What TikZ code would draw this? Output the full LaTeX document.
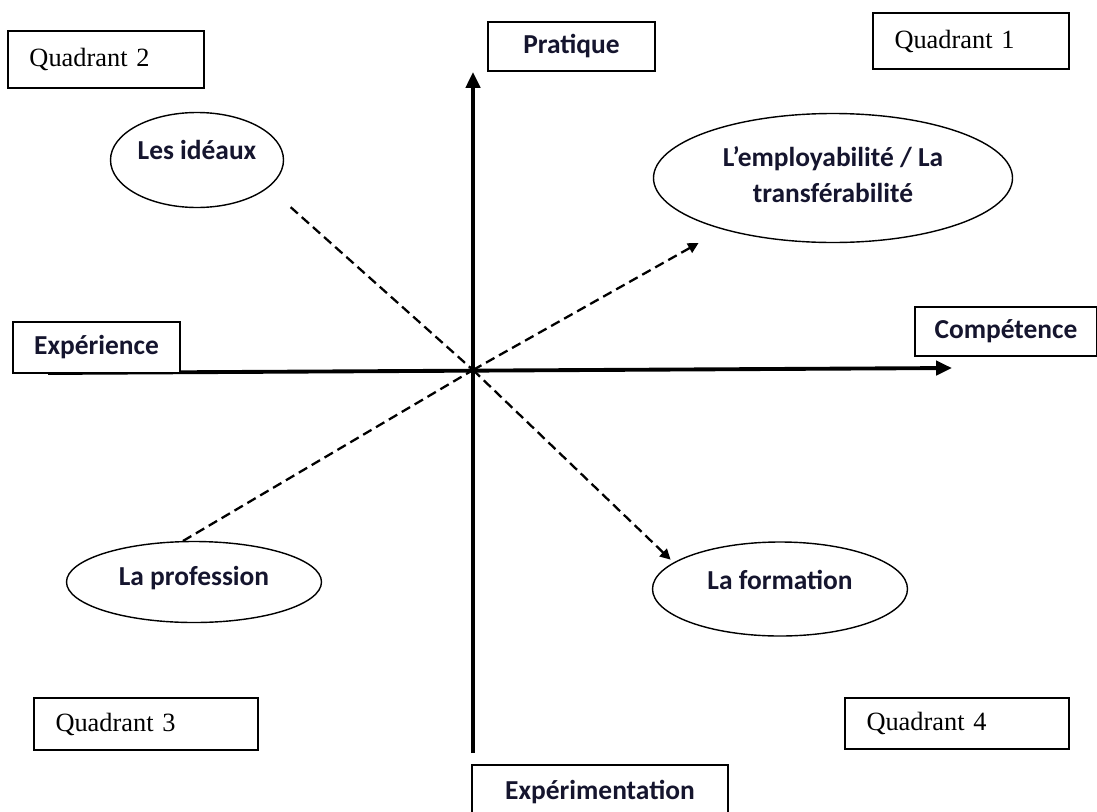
\documentclass[tikz,border=0pt]{standalone}
\usepackage{fontspec}
\setmainfont{Liberation Serif}
\newfontfamily\calibri{Carlito}
\usetikzlibrary{positioning,arrows.meta,shapes.geometric,calc}
\definecolor{labelnavy}{HTML}{15152E}

\begin{document}
\begin{tikzpicture}[
  quadbox/.style={rectangle,draw,line width=1pt,align=left,inner xsep=0.43cm,inner ysep=0pt,minimum height=1.1cm,font=\fontsize{15}{18}\selectfont},
  axisbox/.style={rectangle,draw,fill=white,line width=1pt,inner sep=0pt,minimum height=1cm,font=\calibri\bfseries\fontsize{15.6}{18}\selectfont,text=labelnavy},
  oval/.style={ellipse,draw,line width=0.8pt,inner sep=0pt},
  ovaltext/.style={font=\calibri\bfseries\fontsize{15.6}{20.5}\selectfont,text=labelnavy,align=center},
  axis/.style={line width=2.2pt,-{Triangle[length=9pt,width=8pt]}},
  dashlink/.style={dash pattern=on 5.5pt off 3pt,line width=1.3pt},
  dasharr/.style={dashlink,-{Triangle[length=6pt,width=6pt]}},
]
\useasboundingbox (0,0) rectangle (21.94,-16.22);

% Axes
\coordinate (o)  at (9.46,-7.40);
\coordinate (xl) at (0.96,-7.46);
\coordinate (xr) at (19.04,-7.36);
\coordinate (yb) at (9.46,-15.06);
\coordinate (yt) at (9.46,-1.44);
\draw[axis] (xl) -- (xr);
\draw[axis] (yb) -- (yt);

% Axis labels
\node[axisbox,minimum width=3.34cm,minimum height=0.98cm] (pratique)   at (11.43,-0.93) {Pratique};
\node[axisbox,minimum width=3.34cm,minimum height=1.02cm] (experience) at (1.93,-6.95)  {Expérience};
\node[axisbox,minimum width=3.64cm,minimum height=0.98cm] (competence) at (20.12,-6.63) {Compétence};
\node[axisbox,minimum width=5.12cm,minimum height=1.08cm] (experim)    at (12.00,-15.84) {Expérimentation};

% Quadrants
\node[quadbox,text width=3.06cm,minimum height=1.14cm] (quad2) at (2.12,-1.19)   {Quadrant 2};
\node[quadbox,text width=3.06cm,minimum height=1.12cm] (quad1) at (19.42,-0.82)  {Quadrant 1};
\node[quadbox,text width=3.62cm,minimum height=1.04cm] (quad3) at (2.92,-14.48)  {Quadrant 3};
\node[quadbox,text width=3.62cm,minimum height=1.02cm] (quad4) at (19.14,-14.47) {Quadrant 4};

% Ellipses
\node[oval,minimum width=3.46cm,minimum height=1.90cm,label={[ovaltext,yshift=2mm]center:Les idéaux}] (ideaux) at (3.94,-3.20) {};
\node[oval,minimum width=7.18cm,minimum height=2.58cm,label={[ovaltext,yshift=0.6mm]center:L’employabilité / La\\transférabilité}] (employ) at (16.66,-3.56) {};
\node[oval,minimum width=5.10cm,minimum height=1.62cm,label={[ovaltext,yshift=0.8mm]center:La profession}] (prof) at (3.88,-11.64) {};
\node[oval,minimum width=5.10cm,minimum height=1.88cm,label={[ovaltext,yshift=1.8mm]center:La formation}] (form) at (15.60,-11.78) {};

% Dashed links through the origin
\draw[dashlink,shorten <=0.59cm] (ideaux.-21) -- (o);
\draw[dashlink] (prof.105) -- (o);
\draw[dasharr,shorten >=0.55cm] (o) -- (employ.205);
\draw[dasharr,shorten >=0.08cm] (o) -- (form.166);
\end{tikzpicture}
\end{document}
